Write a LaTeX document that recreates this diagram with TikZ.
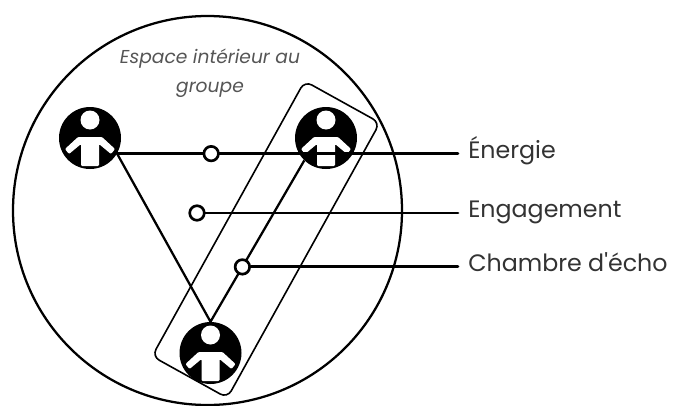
\documentclass[tikz,border=0pt]{standalone}
\usepackage{fontspec}
\setmainfont{Poppins}
\usetikzlibrary{positioning}
\definecolor{labgray}{HTML}{333333}
\definecolor{notegray}{HTML}{555555}
\tikzset{
  person/.style={circle, fill=black, inner sep=0pt, minimum size=46.5pt,
    path picture={
      \begin{scope}[shift={(path picture bounding box.center)}]
        \fill[white] (0,18) circle (9.5);
        \fill[white, rounded corners=0.8pt] (-12,1) -- (12,1) -- (25,-11) -- (21,-16) -- (9,-6)
          -- (9,-28) -- (-9,-28) -- (-9,-6) -- (-21,-16) -- (-25,-11) -- cycle;
      \end{scope}}},
  dot/.style={circle, draw=black, fill=white, line width=2pt, minimum size=10.9pt, inner sep=0pt},
  link/.style={line width=1.7pt},
  feed/.style={line width=2.2pt, line cap=round},
  lab/.style={anchor=west, inner xsep=7.5pt, inner ysep=0pt, text height=0.7em, text depth=0pt,
    font=\fontsize{17.8}{21}\selectfont, text=labgray}
}
\begin{document}
\begin{tikzpicture}[x=0.75pt, y=0.75pt]
  \useasboundingbox (0,0) rectangle (675,405);
  % group space
  \draw[line width=1.7pt] (207.5,194.5) circle (194.5);
  \node[font=\itshape\fontsize{14}{21.75}\selectfont, text=notegray, align=center] (space) at (210,332) {Espace intérieur au\\groupe};
  % echo chamber
  \node[draw, line width=1.2pt, rounded corners=6pt, minimum width=236pt, minimum height=64.5pt, rotate=61] (box) at (266,165.5) {};
  % members
  \node[person] (pl) at (90,267) {};
  \node[person] (pr) at (326,267) {};
  \node[person] (pb) at (210.5,52) {};
  \coordinate (rim) at (458,0);
  % labels
  \node[lab] (ener) at (rim |- pl.-30) {Énergie};
  \node[lab] (enga) at (458,192) {Engagement};
  % links
  \draw[link] (pl.-30) -- (pb.north) -- node[dot, pos=0.34] (cd) {} (pr.226);
  \node[lab] (echo) at (rim |- cd) {Chambre d\textquotesingle écho};
  \draw[feed] (pl.-30) -- node[dot, pos=0.276] (ed) {} (ener.west);
  \node[dot] (gd) at (197,192) {};
  \draw[feed] (gd.east) -- (enga.west);
  \draw[feed] (cd.east) -- (echo.west);
\end{tikzpicture}
\end{document}
